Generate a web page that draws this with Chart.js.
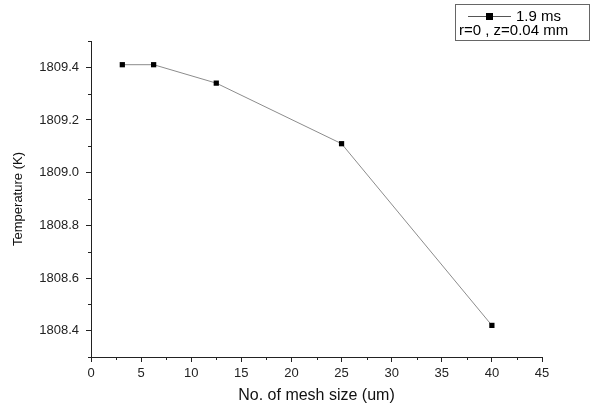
<!DOCTYPE html>
<html>
<head>
<meta charset="utf-8">
<script src="https://cdn.jsdelivr.net/npm/chart.js@4/dist/chart.umd.min.js"></script>
<style>
  html, body { margin: 0; padding: 0; background: #fff; }
  #wrap { position: relative; width: 592px; height: 407px; }
</style>
</head>
<body>
<div id="wrap"><canvas id="chart" width="592" height="407"></canvas></div>
<script>
// valeurs
const meshSize = [3.125, 6.25, 12.5, 25, 40];
const temperature = [1809.41, 1809.41, 1809.34, 1809.11, 1808.42];

// graduations
const xTicks = [0, 5, 10, 15, 20, 25, 30, 35, 40, 45];
const xMinor = [2.5, 7.5, 12.5, 17.5, 22.5, 27.5, 32.5, 37.5, 42.5];
const yTicks = [1808.4, 1808.6, 1808.8, 1809.0, 1809.2, 1809.4];
const yMinor = [1808.3, 1808.5, 1808.7, 1808.9, 1809.1, 1809.3, 1809.5];

const seriesLabel = '1.9 ms';
const legendNote = 'r=0 , z=0.04 mm';

const FONT = '"Liberation Sans", Arial, sans-serif';

// petites graduations (les mineures ne sont pas gérées par Chart.js)
const minorTicks = {
    id: 'minorTicks',
    afterDraw(chart) {
        const { ctx, scales: { x, y } } = chart;
        ctx.save();
        ctx.strokeStyle = '#222';
        ctx.lineWidth = 1;
        ctx.beginPath();
        xMinor.forEach(v => {
            const px = Math.round(x.getPixelForValue(v)) + 0.5;
            ctx.moveTo(px, x.top);
            ctx.lineTo(px, x.top + 3);
        });
        yMinor.forEach(v => {
            const py = Math.round(y.getPixelForValue(v)) + 0.5;
            ctx.moveTo(y.right, py);
            ctx.lineTo(y.right - 3, py);
        });
        ctx.stroke();
        ctx.restore();
    }
};

// légende encadrée en haut à droite
const boxLegend = {
    id: 'boxLegend',
    afterDraw(chart) {
        const ctx = chart.ctx;
        ctx.save();
        ctx.strokeStyle = '#666';
        ctx.lineWidth = 1;
        ctx.strokeRect(455.5, 4.5, 134, 36);
        ctx.strokeStyle = '#555';
        ctx.beginPath();
        ctx.moveTo(468, 16.5);
        ctx.lineTo(511, 16.5);
        ctx.stroke();
        ctx.fillStyle = '#000';
        ctx.fillRect(486, 13, 7, 7);
        ctx.font = '15px ' + FONT;
        ctx.textBaseline = 'middle';
        ctx.textAlign = 'left';
        ctx.fillText(seriesLabel, 516, 16.5);
        ctx.fillText(legendNote, 459, 31);
        ctx.restore();
    }
};

new Chart(document.getElementById('chart'), {
    type: 'line',
    data: {
        datasets: [{
            label: seriesLabel,
            data: meshSize.map((m, i) => ({ x: m, y: temperature[i] })),
            borderColor: '#8c8c8c',
            borderWidth: 1,
            pointStyle: 'rect',
            pointRadius: 3.7,
            pointBackgroundColor: '#000',
            pointBorderColor: '#000',
            pointBorderWidth: 0,
            tension: 0
        }]
    },
    options: {
        responsive: false,
        animation: false,
        layout: { padding: { left: 0, right: 50, top: 41, bottom: 0 } },
        plugins: {
            legend: { display: false },
            tooltip: { enabled: false }
        },
        scales: {
            x: {
                type: 'linear',
                min: 0,
                max: 45,
                afterFit: scale => { scale.height = 50; },
                afterBuildTicks: scale => { scale.ticks = xTicks.map(v => ({ value: v })); },
                grid: { drawOnChartArea: false, drawTicks: true, tickLength: 5, color: '#222' },
                border: { display: true, color: '#222', width: 1 },
                ticks: { color: '#222', font: { family: FONT, size: 13 }, padding: 4, maxRotation: 0 },
                title: {
                    display: true,
                    text: 'No. of mesh size (um)',
                    color: '#111',
                    font: { family: FONT, size: 16 },
                    padding: { top: 0, bottom: 2 }
                }
            },
            y: {
                type: 'linear',
                min: 1808.3,
                max: 1809.5,
                afterFit: scale => { scale.width = 91; },
                afterBuildTicks: scale => { scale.ticks = yTicks.map(v => ({ value: v })); },
                grid: { drawOnChartArea: false, drawTicks: true, tickLength: 5, color: '#222' },
                border: { display: true, color: '#222', width: 1 },
                ticks: {
                    color: '#222',
                    font: { family: FONT, size: 13 },
                    padding: 7,
                    callback: v => Number(v).toFixed(1)
                },
                title: {
                    display: true,
                    text: 'Temperature (K)',
                    color: '#111',
                    font: { family: FONT, size: 13 },
                    padding: { top: 11, bottom: 0 }
                }
            }
        }
    },
    plugins: [minorTicks, boxLegend]
});
</script>
</body>
</html>
